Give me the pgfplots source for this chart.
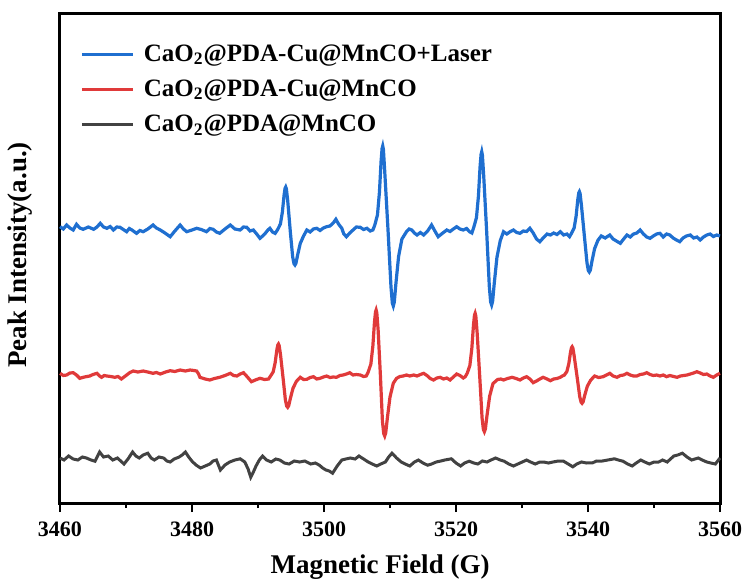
\documentclass[border=0pt]{standalone}
\usepackage{fontspec}
\setmainfont{Liberation Serif}
\usepackage{pgfplots}
\pgfplotsset{compat=1.18}
\definecolor{cblue}{RGB}{31,111,208}
\definecolor{cred}{RGB}{224,58,58}
\definecolor{cgray}{RGB}{66,66,66}
\begin{document}
\begin{tikzpicture}
\begin{axis}[
  width=330pt, height=244.5pt, scale only axis,
  xmin=3460, xmax=3560, ymin=97, ymax=586,
  xtick={3460,3480,...,3560}, minor x tick num=1,
  ytick=\empty,
  axis line style={line width=1.5pt},
  tick style={line width=1.4pt, black},
  major tick length=4.5pt, minor tick length=2.5pt,
  tick align=outside, xtick pos=bottom,
  /pgf/number format/assume math mode=true,
  /pgf/number format/set thousands separator={},
  xticklabel style={font=\bfseries\fontsize{11}{12}\selectfont, inner sep=0pt, yshift=-4.5pt},
  xlabel={Magnetic Field (G)},
  ylabel={Peak Intensity(a.u.)},
  xlabel style={font=\bfseries\fontsize{13.5}{15}\selectfont, inner sep=0pt,
    at={(axis description cs:0.5,0)}, anchor=base, yshift=-35pt, xshift=-5pt},
  ylabel style={font=\bfseries\fontsize{13.5}{15}\selectfont, inner sep=0pt,
    at={(axis description cs:-0.041,0.507)}, anchor=south},
  legend style={draw=none, fill=none, inner sep=0pt, at={(axis description cs:0,1)}, anchor=north west,
    xshift=10pt, yshift=-13pt,
    font=\bfseries\fontsize{12.5}{15}\selectfont, row sep=3.8pt,
    /tikz/every odd column/.append style={column sep=2.5pt}},
  legend cell align=left,
  legend image code/.code={\draw[#1, line width=1.6pt] (0,0) -- (0.9cm,0);},
  clip=false,
]
\addplot[cblue, line width=1.6pt] coordinates {
(3460.0,373.3)(3460.5,371)(3461.0,375)(3461.5,372)(3462.0,370)(3462.5,375.7)(3463.0,372)(3463.5,370.7)
(3464.3,373)(3465.1,370.7)(3465.6,373)(3466.1,376.7)(3466.6,373)(3467.1,371.7)(3467.6,373.5)(3468.1,370)
(3468.6,373)(3469.1,372.7)(3469.6,370.5)(3470.1,368.3)(3470.5,371.5)(3470.9,370)(3471.6,366.7)(3472.1,369.5)
(3472.6,368.3)(3473.3,371)(3474.1,375)(3474.6,372)(3475.2,370)(3475.9,367)(3476.7,363.3)(3477.4,369)
(3478.2,375)(3478.7,371)(3479.2,368.3)(3480.0,370)(3480.7,371.7)(3481.4,370.5)(3482.2,368.3)(3482.7,371.5)
(3483.2,370.7)(3483.7,368)(3484.2,366.7)(3485.0,371)(3485.8,375)(3486.5,371)(3487.3,370)(3487.8,373)
(3488.3,372.7)(3488.8,369)(3489.3,370)(3489.8,366)(3490.3,361.7)(3490.7,364)(3491.1,366.7)(3491.5,370)
(3491.8,371.7)(3492.2,368)(3492.6,366.7)
(3493.0,370.7)(3493.4,376.1)(3493.7,388.3)(3493.95,404.9)(3494.1,411.7)(3494.2,413)(3494.3,411.2)(3494.5,399.5)
(3494.9,368)(3495.25,343.3)(3495.45,336.3)(3495.6,335)(3495.75,336.7)(3496.0,344.9)(3496.4,356.5)(3496.9,364)
(3497.4,370)(3497.9,368)(3498.4,371)(3498.9,371.7)(3499.4,369.5)(3499.9,372)(3500.4,373.3)(3500.9,374)
(3501.4,377)(3501.8,380.7)(3502.2,376)(3502.7,371.7)(3503.0,366)(3503.4,363.3)(3503.9,367)(3504.4,370)
(3504.9,373)(3505.5,372.7)(3506.0,370.5)(3506.5,371.7)(3507.0,369)(3507.4,370)
(3507.7,375)(3508.1,385.1)(3508.4,407.8)(3508.65,438.9)(3508.8,451.5)(3508.9,454)(3509.0,450.6)(3509.2,428.8)
(3509.7,370)(3510.15,313)(3510.35,297)(3510.5,294)(3510.65,297.8)(3510.9,316.8)(3511.3,343.4)(3511.8,360.9)
(3512.5,368.3)(3512.9,371)(3513.3,370)(3513.7,367)(3514.1,365)(3514.6,367.5)(3515.1,365)(3515.7,369)
(3516.3,375)(3516.8,369)(3517.3,363.3)(3518.0,367)(3518.6,370)(3519.1,368.5)(3519.6,371)(3520.1,373.3)
(3520.6,371)(3521.1,370)(3521.6,371.5)(3522.1,368)(3522.4,367)
(3522.7,372.8)(3523.1,382.4)(3523.4,404)(3523.65,433.6)(3523.8,445.6)(3523.9,448.3)(3524.0,444.8)(3524.2,424)
(3524.65,368)(3525.05,313.3)(3525.25,297.9)(3525.4,295)(3525.55,298.7)(3525.8,316.9)(3526.2,342.5)(3526.7,359.2)
(3527.2,368.3)(3527.7,366)(3528.2,368.3)(3528.7,370)(3529.2,367.5)(3529.7,366.7)(3530.2,369)(3530.7,368.5)
(3531.2,371.7)(3531.7,367)(3532.2,361)(3532.7,358.3)(3533.2,362)(3533.8,366)(3534.3,365)(3534.8,367)
(3535.3,365.5)(3535.8,368.3)(3536.3,365)(3536.8,366)(3537.2,363.3)
(3537.5,366.7)(3537.9,372)(3538.2,383.9)(3538.45,400.3)(3538.6,407)(3538.7,408.3)(3538.8,406.5)(3539.0,395)
(3539.45,364)(3539.85,337)(3540.05,329.4)(3540.2,328)(3540.35,329.8)(3540.6,338.8)(3541.0,351.4)(3541.5,359.7)
(3542.0,364)(3542.6,362)(3543.3,365)(3543.8,361)(3544.3,359)(3544.9,356.7)(3545.4,361)(3545.9,365)
(3546.4,363)(3546.9,366)(3547.4,367)(3547.9,370)(3548.4,366)(3548.9,363)(3549.4,361.7)(3549.9,364)
(3550.4,366)(3550.9,366.7)(3551.4,363)(3551.9,366)(3552.4,365)(3552.9,362)(3553.4,360)(3553.9,358.3)
(3554.4,362)(3554.9,364)(3555.5,365)(3556.0,362)(3556.5,363)(3557.0,360)(3557.5,363)(3558.0,365)
(3558.5,366)(3559.0,363.5)(3559.5,365)(3560.0,364)
};
\addlegendentry{CaO\textsubscript{2}@PDA-Cu@MnCO+Laser}
\addplot[cred, line width=1.6pt] coordinates {
(3460.0,226.7)(3460.5,224.5)(3461.0,225)(3461.5,227)(3462.0,227.3)(3462.5,225)(3463.0,221.7)(3463.7,223)
(3464.5,224)(3465.0,225.5)(3465.6,226.7)(3466.0,224)(3466.3,222.7)(3466.7,224.5)(3467.1,224)(3467.7,223.5)
(3468.3,222.7)(3468.8,223.5)(3469.3,221)(3469.7,223)(3470.1,225)(3470.6,227.5)(3471.1,229)(3471.8,228)
(3472.6,229)(3473.3,228)(3474.1,226.7)(3474.6,227.5)(3475.2,226)(3476.0,228)(3476.7,229.3)(3477.4,228.5)
(3478.2,230)(3479.0,229)(3479.7,230)(3480.3,229.5)(3480.7,229)(3481.0,226)(3481.2,222.7)(3482.0,221)
(3482.7,220)(3483.4,221.5)(3484.2,222.7)(3485.0,224.5)(3485.8,226.7)(3486.3,224.5)(3486.8,224)(3487.3,226)
(3487.8,227.3)(3488.4,223)(3489.0,218.3)(3489.6,220)(3490.3,221.7)(3491.0,220.5)(3491.6,221)
(3491.9,224)(3492.3,228.1)(3492.6,237.3)(3492.85,249.9)(3493.0,255)(3493.1,256)(3493.2,254.6)(3493.4,245.8)
(3493.8,222)(3494.15,200)(3494.35,193.9)(3494.5,192.7)(3494.65,194.2)(3494.9,201.5)(3495.3,211.7)(3495.8,218.5)
(3496.4,222.7)(3496.9,220.5)(3497.4,220.7)(3497.9,222.5)(3498.4,223.3)(3498.9,221)(3499.4,221.7)(3499.9,223)
(3500.4,224)(3500.9,222.5)(3501.4,223)(3501.9,222.7)(3502.4,224.5)(3502.9,225)(3503.4,226)(3503.9,227.3)
(3504.4,225)(3504.9,225.5)(3505.5,225)(3506.0,223.5)(3506.4,224)
(3506.7,228)(3507.1,235.9)(3507.4,253.7)(3507.65,278.1)(3507.8,288)(3507.9,290)(3508.0,287.4)(3508.2,270.2)
(3508.55,224)(3508.85,179)(3509.05,166.4)(3509.2,164)(3509.35,167)(3509.6,182)(3510.0,203)(3510.5,216.8)
(3511.0,221.7)(3511.5,223.5)(3512.0,224)(3512.5,225)(3513.0,224)(3513.6,225)(3514.1,224)(3514.6,225.5)
(3515.1,226.7)(3515.6,224.5)(3516.1,221.5)(3516.6,220)(3517.1,222)(3517.6,222.7)(3518.1,221)(3518.6,222)
(3519.1,220)(3519.6,223)(3520.1,226)(3520.6,224.5)(3521.1,222)(3521.4,223.3)
(3521.7,226.8)(3522.1,234.5)(3522.4,251.7)(3522.65,275.2)(3522.8,284.8)(3522.9,286.7)(3523.0,284.2)(3523.2,267.6)
(3523.6,223)(3523.95,182)(3524.15,170.5)(3524.3,168.3)(3524.45,171)(3524.7,184.7)(3525.1,203.9)(3525.6,216.4)
(3526.3,220.5)(3526.8,221)(3527.2,220)(3527.8,221.5)(3528.5,222.7)(3529.1,221.5)(3529.7,220)(3530.2,222)
(3530.7,223.3)(3531.2,221)(3531.7,217.3)(3532.2,219)(3532.7,221)(3533.2,222.7)(3533.8,221)(3534.3,219.3)
(3534.8,221)(3535.3,221.5)(3535.8,222.7)(3536.1,224)
(3536.4,224.8)(3536.8,228.5)(3537.1,236.6)(3537.35,247.8)(3537.5,252.4)(3537.6,253.3)(3537.7,252.1)(3537.9,244.2)
(3538.35,223)(3538.75,203.3)(3538.95,197.8)(3539.1,196.7)(3539.25,198)(3539.5,204.6)(3539.9,213.8)(3540.4,219.8)
(3541.0,224)(3541.6,222.5)(3542.3,223.3)(3542.8,225)(3543.3,226.7)(3543.8,224)(3544.4,222.7)(3544.9,224.5)
(3545.4,225)(3545.9,226.7)(3546.4,225)(3546.9,224)(3547.4,224)(3547.9,225.5)(3548.4,226)(3548.9,227.3)
(3549.4,225.5)(3549.9,224.5)(3550.4,225)(3550.9,224)(3551.4,225)(3551.9,223.3)(3552.4,224.5)(3553.0,223.5)
(3553.5,222.7)(3554.0,224)(3554.5,224.5)(3555.0,225)(3555.5,226)(3556.0,227)(3556.5,228.3)(3557.0,227)
(3557.5,225.5)(3558.0,226)(3558.5,224)(3559.0,222.7)(3559.5,225)(3560.0,226.7)
};
\addlegendentry{CaO\textsubscript{2}@PDA-Cu@MnCO}
\addplot[cgray, line width=1.5pt] coordinates {
(3460.0,142)(3460.6,140)(3461.3,144)(3462.0,141)(3462.7,140)(3463.4,143)(3464.0,142)(3464.7,140)
(3465.3,138.8)(3466.0,148)(3466.6,143)(3467.3,144)(3468.0,140)(3468.7,142)(3469.2,139)(3469.7,136)
(3470.3,141)(3471.0,148)(3471.5,144)(3472.0,142)(3472.6,145)(3473.3,146.8)(3473.8,142)(3474.3,140)
(3475.0,143)(3475.7,142)(3476.2,139)(3476.7,138)(3477.3,141)(3478.0,142.8)(3478.5,145)(3479.0,148)
(3479.5,143)(3480.0,138.8)(3480.6,135)(3481.3,132)(3482.0,134)(3482.7,136)(3483.2,139)(3483.7,140)
(3484.3,130)(3485.0,135)(3485.7,138)(3486.5,140)(3487.3,141.2)(3488.0,138)(3488.5,131)(3488.9,122.8)
(3489.3,128)(3489.7,134)(3490.2,140)(3490.7,144)(3491.3,140)(3492.0,138)(3492.7,141)(3493.3,140)
(3494.0,137)(3494.7,136)(3495.5,139)(3496.3,138)(3497.1,139)(3498.0,136)(3498.7,137)(3499.3,134.8)
(3499.8,132)(3500.3,130)(3500.8,129)(3501.3,126.8)(3502.0,134)(3502.7,140)(3503.3,141)(3504.0,142)
(3504.7,141)(3505.3,144)(3506.0,141)(3506.7,138)(3507.3,136)(3508.0,134)(3508.6,136)(3509.3,138)
(3509.8,143)(3510.3,146.8)(3511.0,142)(3511.7,138)(3512.3,136)(3513.0,134)(3513.7,138)(3514.3,140)
(3515.0,137)(3515.7,134.8)(3516.3,136)(3517.0,138)(3517.7,139)(3518.3,140)(3519.3,141.2)(3520.0,137)
(3520.7,134)(3521.3,137)(3522.0,138.8)(3522.7,137)(3523.3,136)(3524.0,139)(3524.7,138)(3525.3,140)
(3526.0,142)(3526.7,140)(3527.3,138.8)(3528.0,136)(3528.7,134)(3529.7,137)(3530.7,140)(3531.3,138)
(3532.0,136)(3532.7,138)(3533.3,138)(3534.0,137)(3534.7,138)(3535.5,139)(3536.3,138.8)(3537.0,136)
(3537.7,133.2)(3538.3,136)(3539.0,138)(3539.8,137)(3540.7,137.2)(3541.3,139)(3542.0,138.8)(3543.0,140)
(3544.0,141.2)(3544.6,140)(3545.3,138.8)(3546.0,136)(3546.7,134)(3547.3,137)(3548.0,140)(3548.6,138)
(3549.3,136)(3550.0,138)(3550.7,138)(3551.3,140)(3552.0,138)(3552.5,141)(3553.0,144)(3553.6,145)
(3554.3,146.8)(3555.0,143)(3555.7,140)(3556.2,141)(3556.7,142)(3557.3,140)(3558.0,138)(3558.6,137)
(3559.3,136)(3560.0,142)
};
\addlegendentry{CaO\textsubscript{2}@PDA@MnCO}
\end{axis}
\path ([xshift=-30pt,yshift=7pt]current axis.north west) rectangle ([xshift=11.5pt,yshift=-38pt]current axis.south east);
\end{tikzpicture}
\end{document}
